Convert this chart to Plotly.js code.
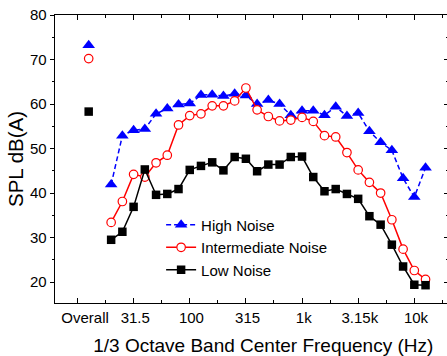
<!DOCTYPE html>
<html>
<head>
<meta charset="utf-8">
<script src="https://cdn.plot.ly/plotly-3.0.1.min.js"></script>
<style>
html, body { margin: 0; padding: 0; overflow: hidden; background: #fff; }
#chart { width: 449px; height: 356px; }
</style>
</head>
<body>
<div id="chart"></div>
<script>
// 1/3 octave band centre frequencies (Hz)
const bands = ['20','25','31.5','40','50','63','80','100','125','160','200','250','315','400','500','630','800','1k','1.25k','1.6k','2k','2.5k','3.15k','4k','5k','6.3k','8k','10k','12.5k'];

// Overall levels, dB(A)
const overallLabel = 'Overall';
const overallHigh = 73.2;
const overallInter = 70.2;
const overallLow = 58.3;

// Band levels, dB(A)
const highNoise  = [41.9, 52.9, 54.1, 54.4, 57.8, 59.0, 59.9, 60.1, 62.0, 62.1, 61.8, 62.3, 61.9, 60.0, 60.9, 60.0, 57.5, 58.5, 58.5, 57.5, 59.4, 57.3, 58.0, 53.9, 51.4, 49.6, 43.3, 39.1, 45.7];
const interNoise = [33.4, 38.1, 44.2, 43.6, 46.8, 48.5, 55.3, 57.4, 57.8, 59.6, 59.6, 60.7, 63.6, 58.7, 57.2, 56.2, 56.4, 57.0, 56.1, 52.9, 52.6, 49.1, 45.2, 42.4, 40.0, 34.0, 27.4, 22.6, 20.6];
const lowNoise   = [29.5, 31.3, 36.9, 45.3, 39.6, 39.8, 40.9, 45.2, 46.1, 46.9, 45.1, 48.1, 47.7, 44.9, 46.4, 46.4, 48.1, 48.2, 43.6, 40.4, 40.9, 39.8, 38.7, 34.8, 32.9, 28.4, 23.5, 19.4, 19.3];

// labelled band ticks
const tickBands = ['31.5','100','315','1k','3.15k','10k'];

// positions: bands at their index, Overall placed two slots before the first band
const bandX = bands.map((b, i) => i);
const overallX = -2;
const tickVals = [overallX - 1].concat(tickBands.map(b => bands.indexOf(b)));
const tickText = [overallLabel].concat(tickBands);
const minorVals = tickVals.map(v => v + 2.5);
// label anchor positions (the Overall label sits a little right of its tick)
const labelVals = [overallX - 0.32].concat(tickBands.map(b => bands.indexOf(b) + 0.15));

const font = 'Liberation Sans, Arial, sans-serif';

// x range of the plot, and a label axis that maps identically but has a shifted domain
const xRange = [-5, 30];
const x2Start = 0.06;
const x2Range = [xRange[0] + x2Start * (xRange[1] - xRange[0]), xRange[1]];

function series(name, vals, ov, color, symbol, size, fill, dash) {
  const mk = {symbol: symbol, size: size, color: fill, line: {color: color, width: fill === '#fff' ? 1.2 : 0}};
  return [
    {
      x: bandX, y: vals, name: name, type: 'scatter', mode: 'lines+markers',
      line: {color: color, width: 1.5, dash: dash},
      marker: mk
    },
    {
      x: [overallX], y: [ov], name: name + ' (overall)', type: 'scatter', mode: 'markers',
      marker: mk, showlegend: false
    }
  ];
}

const data = []
  .concat(series('High Noise', highNoise, overallHigh, '#0000ff', 'triangle-up', 11, '#0000ff', '5px,3px'))
  .concat(series('Intermediate Noise', interNoise, overallInter, '#ff0000', 'circle', 8.5, '#fff', 'solid'))
  .concat(series('Low Noise', lowNoise, overallLow, '#000000', 'square', 8.5, '#000000', 'solid'));

// empty traces anchoring the label x-axis and the right-hand mirrored y-axis
data.push({x: [], y: [], xaxis: 'x2', yaxis: 'y', type: 'scatter', mode: 'markers', showlegend: false, hoverinfo: 'skip'});
data.push({x: [], y: [], xaxis: 'x', yaxis: 'y2', type: 'scatter', mode: 'markers', showlegend: false, hoverinfo: 'skip'});

const layout = {
  width: 449, height: 356,
  margin: {l: 55, r: 1, t: 15, b: 53},
  paper_bgcolor: '#fff', plot_bgcolor: 'rgba(0,0,0,0)',
  font: {family: font, size: 15, color: '#000'},
  showlegend: true,
  legend: {
    x: 0.27, y: 0.328, xanchor: 'left', yanchor: 'top',
    bgcolor: 'rgba(0,0,0,0)', borderwidth: 0, tracegroupgap: 0,
    font: {family: font, size: 15, color: '#000'}
  },
  xaxis: {
    range: xRange,
    tickmode: 'array', tickvals: tickVals, ticktext: tickText, showticklabels: false,
    ticks: 'inside', ticklen: 5, tickwidth: 1, tickcolor: '#000',
    minor: {tickvals: minorVals, ticks: 'inside', ticklen: 3, tickwidth: 1, tickcolor: '#000'},
    showline: true, linecolor: '#000', linewidth: 1.3, mirror: 'ticks',
    showgrid: false, zeroline: false
  },
  xaxis2: {
    anchor: 'y', side: 'bottom', domain: [x2Start, 1], range: x2Range,
    tickmode: 'array', tickvals: labelVals, ticktext: tickText,
    ticks: 'outside', ticklen: 1, tickcolor: 'rgba(0,0,0,0)',
    showline: false, showgrid: false, zeroline: false,
    tickfont: {family: font, size: 15, color: '#000'},
    title: {text: '1/3 Octave Band Center Frequency (Hz)', font: {family: font, size: 19, color: '#000'}, standoff: 15}
  },
  yaxis: {
    range: [15.3, 80], dtick: 10, tick0: 0,
    ticks: 'outside', ticklen: 4, tickwidth: 1, tickcolor: '#000',
    minor: {dtick: 5, ticks: 'outside', ticklen: 2, tickwidth: 1, tickcolor: '#000'},
    showline: true, linecolor: '#000', linewidth: 1.3, mirror: true,
    showgrid: false, zeroline: false,
    tickfont: {family: font, size: 15, color: '#000'},
    title: {text: 'SPL dB(A)', font: {family: font, size: 20.5, color: '#000'}, standoff: 0}
  },
  yaxis2: {
    overlaying: 'y', side: 'right', range: [15.3, 80], dtick: 10, tick0: 0,
    ticks: 'inside', ticklen: 4, tickwidth: 1, tickcolor: '#000',
    minor: {dtick: 5, ticks: 'inside', ticklen: 2, tickwidth: 1, tickcolor: '#000'},
    showticklabels: false, showline: false, showgrid: false, zeroline: false
  }
};

Plotly.newPlot('chart', data, layout, {displayModeBar: false, staticPlot: true});
</script>
</body>
</html>
